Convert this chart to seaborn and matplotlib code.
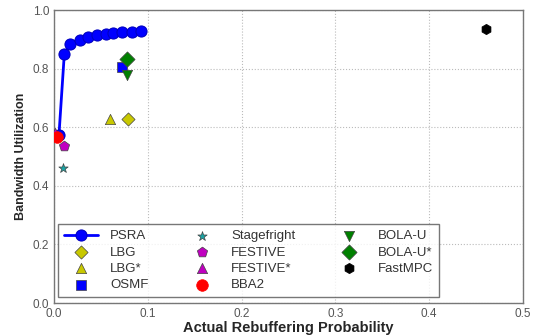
import matplotlib
matplotlib.use("Agg")
import matplotlib.pyplot as plt
import seaborn as sns
import pandas as pd

# PSRA trade-off curve
psra_x = [0.0053, 0.011, 0.0174, 0.0277, 0.036, 0.046, 0.055, 0.0626, 0.0728, 0.083, 0.093]
psra_y = [0.574, 0.850, 0.883, 0.898, 0.908, 0.916, 0.918, 0.921, 0.924, 0.925, 0.927]

# Single operating points of the other algorithms
algorithms = ["LBG", "LBG*", "OSMF", "Stagefright", "FESTIVE", "FESTIVE*", "BBA2", "BOLA-U", "BOLA-U*", "FastMPC"]
rebuffer = [0.079, 0.0597, 0.073, 0.010, 0.0107, 0.001, 0.0029, 0.078, 0.078, 0.461]
utilization = [0.628, 0.628, 0.806, 0.462, 0.537, 0.580, 0.568, 0.780, 0.832, 0.934]
colors = ["#c8c800", "#c8c800", "#0000ff", "#1aa3a3", "#c000c0", "#c000c0", "#ff0000", "#008000", "#008000", "#000000"]
markers = ["D", "^", "s", "*", "p", "^", "o", "v", "D", "h"]
sizes = [45, 55, 50, 50, 60, 55, 70, 55, 60, 55]

sns.set_theme(style="white")
plt.rcParams["font.family"] = ["Liberation Sans", "DejaVu Sans"]

fig = plt.figure(figsize=(5.41, 3.36), dpi=100)
ax = fig.add_axes([0.0998, 0.098, 0.867, 0.872])

psra = pd.DataFrame({"x": psra_x, "y": psra_y})
sns.lineplot(data=psra, x="x", y="y", ax=ax, color="#0000ff", lw=2,
             marker="o", markersize=8, markeredgecolor="#0000c0", label="PSRA", zorder=3)

pts = pd.DataFrame({"x": rebuffer, "y": utilization, "alg": algorithms})
for i, alg in enumerate(algorithms):
    sns.scatterplot(data=pts[pts["alg"] == alg], x="x", y="y", ax=ax,
                    color=colors[i], marker=markers[i], s=sizes[i],
                    edgecolor="#444444" if alg not in ("BBA2", "FastMPC") else colors[i],
                    linewidth=0.5, label=alg, zorder=4)

ax.set_xlim(0, 0.5)
ax.set_ylim(0, 1.0)
ax.set_xticks([0.0, 0.1, 0.2, 0.3, 0.4, 0.5])
ax.set_yticks([0.0, 0.2, 0.4, 0.6, 0.8, 1.0])
ax.set_xticklabels(["0.0", "0.1", "0.2", "0.3", "0.4", "0.5"])
ax.set_yticklabels(["0.0", "0.2", "0.4", "0.6", "0.8", "1.0"])
ax.tick_params(axis="both", labelsize=8.5, colors="#555555", length=3, direction="in")
ax.grid(True, linestyle=":", color="#bbbbbb", linewidth=0.8)
for s in ax.spines.values():
    s.set_color("#777777")
    s.set_linewidth(1.0)

ax.set_xlabel("Actual Rebuffering Probability", fontsize=10.5, fontweight="bold", labelpad=1)
ax.set_ylabel("Bandwidth Utilization", fontsize=9, fontweight="bold", labelpad=4)

handles, labels = ax.get_legend_handles_labels()
leg = ax.legend(handles, labels, ncol=3, loc="lower left", bbox_to_anchor=(0.0085, 0.02),
                borderaxespad=0, fontsize=9.5, frameon=True, fancybox=False, edgecolor="#555555",
                handlelength=2.6, handletextpad=0.9, columnspacing=2.75,
                labelspacing=0.31, borderpad=0.45)
leg.get_frame().set_linewidth(1.0)
for t in leg.get_texts():
    t.set_color("#333333")

fig.savefig("out.png", dpi=100)
